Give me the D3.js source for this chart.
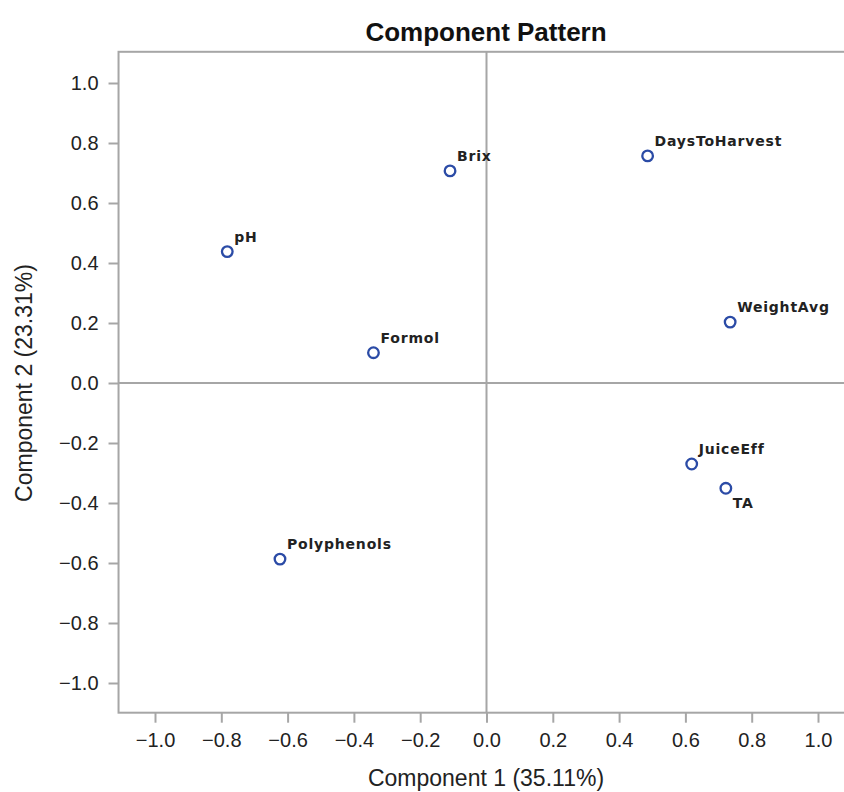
<!DOCTYPE html>
<html>
<head>
  <meta charset="utf-8">
  <title>Component Pattern</title>
  <style>
    body { margin: 0; background: #fff; }
    svg { display: block; }
    .tick text { font-family: "Liberation Sans", Arial, sans-serif; font-size: 20px; fill: #222; }
    .lbl { font-family: "DejaVu Sans", Verdana, sans-serif; font-weight: bold; font-size: 14px; letter-spacing: 0.8px; fill: #222; }
  </style>
</head>
<body>
  <svg id="chart"></svg>

  <script src="https://d3js.org/d3.v7.min.js"></script>
  <script>
    // data
    const variables = ["Brix", "pH", "Formol", "DaysToHarvest", "WeightAvg", "JuiceEff", "TA", "Polyphenols"];
    const comp1 = [-0.11, -0.782, -0.341, 0.486, 0.735, 0.619, 0.722, -0.623];
    const comp2 = [0.707, 0.438, 0.101, 0.757, 0.203, -0.27, -0.351, -0.587];
    const labelSide = ["above", "above", "above", "above", "above", "above", "below", "above"];
    const tickValues = [-1.0, -0.8, -0.6, -0.4, -0.2, 0.0, 0.2, 0.4, 0.6, 0.8, 1.0];

    const width = 844;
    const height = 792;

    const svg = d3.select("#chart")
      .attr("width", width)
      .attr("height", height);

    // scales
    const x = d3.scaleLinear().domain([-1, 1]).range([155, 818]);
    const y = d3.scaleLinear().domain([-1, 1]).range([683, 83]);

    const plotLeft = x(-1.11), plotRight = x(1.11);
    const plotTop = y(1.104), plotBottom = y(-1.099);

    const grey = "#a6a6a6";

    // title
    svg.append("text")
      .attr("x", 486)
      .attr("y", 41)
      .attr("text-anchor", "middle")
      .style("font-family", "Liberation Sans, Arial, sans-serif")
      .style("font-weight", "bold")
      .style("font-size", "26px")
      .style("fill", "#111")
      .text("Component Pattern");

    // reference lines at 0
    svg.append("line")
      .attr("x1", x(0)).attr("x2", x(0))
      .attr("y1", plotTop).attr("y2", plotBottom)
      .attr("stroke", grey).attr("stroke-width", 2);
    svg.append("line")
      .attr("x1", plotLeft).attr("x2", plotRight)
      .attr("y1", y(0)).attr("y2", y(0))
      .attr("stroke", grey).attr("stroke-width", 2);

    // frame
    svg.append("rect")
      .attr("x", plotLeft).attr("y", plotTop)
      .attr("width", plotRight - plotLeft).attr("height", plotBottom - plotTop)
      .attr("fill", "none")
      .attr("stroke", grey).attr("stroke-width", 2);

    // axes
    const fmt = d => d3.format(".1f")(d).replace("-", "\u2212");

    const xAxis = svg.append("g")
      .attr("transform", `translate(0,${plotBottom})`)
      .call(d3.axisBottom(x).tickValues(tickValues).tickFormat(fmt).tickSize(10).tickPadding(10));
    const yAxis = svg.append("g")
      .attr("transform", `translate(${plotLeft},0)`)
      .call(d3.axisLeft(y).tickValues(tickValues).tickFormat(fmt).tickSize(10).tickPadding(10));

    [xAxis, yAxis].forEach(a => {
      a.select(".domain").remove();
      a.selectAll(".tick line").attr("stroke", grey).attr("stroke-width", 2);
    });

    // axis labels
    svg.append("text")
      .attr("x", 486)
      .attr("y", 786)
      .attr("text-anchor", "middle")
      .style("font-family", "Liberation Sans, Arial, sans-serif")
      .style("font-size", "23px")
      .style("fill", "#222")
      .text("Component 1 (35.11%)");

    svg.append("text")
      .attr("transform", `translate(32,${y(0)}) rotate(-90)`)
      .attr("text-anchor", "middle")
      .style("font-family", "Liberation Sans, Arial, sans-serif")
      .style("font-size", "23px")
      .style("fill", "#222")
      .text("Component 2 (23.31%)");

    // points
    const points = variables.map((v, i) => ({ name: v, c1: comp1[i], c2: comp2[i], side: labelSide[i] }));

    const g = svg.append("g")
      .selectAll("g")
      .data(points)
      .enter().append("g")
      .attr("transform", d => `translate(${x(d.c1)},${y(d.c2)})`);

    g.append("circle")
      .attr("r", 5.3)
      .attr("fill", "none")
      .attr("stroke", "#2b4ba6")
      .attr("stroke-width", 2.3);

    g.append("text")
      .attr("class", "lbl")
      .attr("x", 7)
      .attr("y", d => d.side === "below" ? 20 : -10)
      .text(d => d.name);
  </script>
</body>
</html>
